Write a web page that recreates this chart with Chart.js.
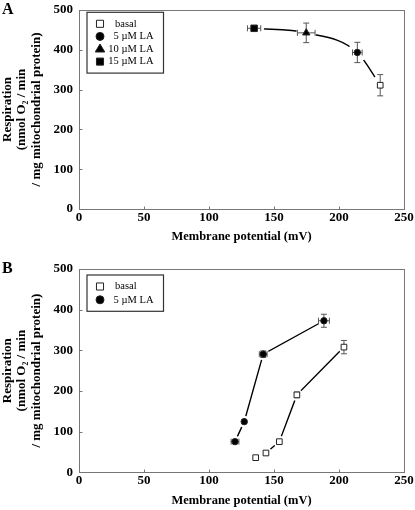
<!DOCTYPE html>
<html>
<head>
<meta charset="utf-8">
<script src="https://cdn.jsdelivr.net/npm/chart.js@4/dist/chart.umd.min.js"></script>
<style>
  body { margin: 0; background: #fff; width: 415px; height: 510px; overflow: hidden; position: relative; }
  .panel { position: absolute; left: 0; width: 415px; }
  #panelA { top: 0; height: 250px; }
  #panelB { top: 250px; height: 260px; }
  .tag { position: absolute; font: bold 16px "Liberation Serif", serif; color: #000; }
</style>
</head>
<body>
<div class="panel" id="panelA">
  <canvas id="chartA" width="415" height="250"></canvas>
  <div class="tag" style="left:2px; top:0px;">A</div>
</div>
<div class="panel" id="panelB">
  <canvas id="chartB" width="415" height="260"></canvas>
  <div class="tag" style="left:2px; top:9px;">B</div>
</div>
<script>
// shared axes
const xTicks = [0, 50, 100, 150, 200, 250];
const yTicks = [0, 100, 200, 300, 400, 500];

// panel A: one point per LA concentration
const labelsA = ['basal', '5 µM LA', '10 µM LA', '15 µM LA'];
const potentialA = [231.7, 214.1, 174.8, 134.7];
const potentialErrA = [0.8, 3.7, 6.8, 5.1];
const respirationA = [311, 393.3, 442.6, 454];
const respirationErrA = [26.7, 25.5, 24.6, 3];

// panel B: titration, basal vs 5 uM LA
const labelsB = ['basal', '5 µM LA'];
const basalPotentialB = [135.9, 143.8, 154.1, 167.6, 203.8];
const basalPotentialErrB = [0, 0, 0, 0, 0];
const basalRespirationB = [36, 47.5, 75.4, 190.4, 307.9];
const basalRespirationErrB = [0, 0, 0, 7, 16.4];
const laPotentialB = [120.0, 127.1, 141.7, 188.4];
const laPotentialErrB = [3, 0, 3, 4.2];
const laRespirationB = [75.4, 124.6, 290.6, 372.7];
const laRespirationErrB = [0, 0, 8, 16];

const FONT = '"Liberation Serif", "Times New Roman", serif';

const markerStyles = {
  'basal':    { pointStyle: 'rect', bg: '#fff', radius: 4 },
  '5 µM LA':  { pointStyle: 'circle', bg: '#000', radius: 3.2 },
  '10 µM LA': { pointStyle: 'triangle', bg: '#000', radius: 4.2 },
  '15 µM LA': { pointStyle: 'rect', bg: '#000', radius: 4.6 }
};

function toPoints(xs, ys) {
  return xs.map((x, i) => ({ x: x, y: ys[i] }));
}

function markerDataset(label, xs, ys, xErr, yErr) {
  const m = markerStyles[label];
  return {
    label: label,
    data: toPoints(xs, ys),
    xErr: xErr,
    yErr: yErr,
    inLegend: true,
    pointStyle: m.pointStyle,
    pointRadius: m.radius,
    pointBackgroundColor: m.bg,
    pointBorderColor: '#222',
    pointBorderWidth: 1,
    showLine: false,
    order: 1
  };
}

// the connecting line, plus a white halo so the line stops short of each marker
function lineDatasets(xs, ys, smooth, gap) {
  const idx = xs.map((_, i) => i).sort((a, b) => xs[a] - xs[b]);
  const pts = idx.map(i => ({ x: xs[i], y: ys[i] }));
  return [
    {
      data: pts,
      showLine: true,
      borderColor: '#000',
      borderWidth: 1.4,
      pointRadius: 0,
      cubicInterpolationMode: smooth ? 'monotone' : 'default',
      tension: 0,
      order: 3
    },
    {
      data: pts,
      showLine: false,
      pointRadius: gap,
      pointBackgroundColor: '#fff',
      pointBorderWidth: 0,
      order: 2
    }
  ];
}

const errorBars = {
  id: 'errorBars',
  beforeDatasetDraw(chart, args) {
    const ds = chart.data.datasets[args.index];
    if (!ds.xErr && !ds.yErr) return;
    const { ctx, scales: { x, y } } = chart;
    const cap = 3;
    ctx.save();
    ctx.strokeStyle = '#555';
    ctx.lineWidth = 1;
    ds.data.forEach((p, i) => {
      const px = x.getPixelForValue(p.x);
      const py = y.getPixelForValue(p.y);
      const ye = ds.yErr ? ds.yErr[i] : 0;
      const xe = ds.xErr ? ds.xErr[i] : 0;
      ctx.beginPath();
      if (ye) {
        const t = y.getPixelForValue(p.y + ye);
        const b = y.getPixelForValue(p.y - ye);
        ctx.moveTo(px, t); ctx.lineTo(px, b);
        ctx.moveTo(px - cap, t); ctx.lineTo(px + cap, t);
        ctx.moveTo(px - cap, b); ctx.lineTo(px + cap, b);
      }
      if (xe) {
        const l = x.getPixelForValue(p.x - xe);
        const r = x.getPixelForValue(p.x + xe);
        ctx.moveTo(l, py); ctx.lineTo(r, py);
        ctx.moveTo(l, py - cap); ctx.lineTo(l, py + cap);
        ctx.moveTo(r, py - cap); ctx.lineTo(r, py + cap);
      }
      ctx.stroke();
    });
    ctx.restore();
  }
};

// grey frame round the plot with small inward ticks
const frame = {
  id: 'frame',
  afterDraw(chart) {
    const { ctx, chartArea: a, scales: { x, y } } = chart;
    ctx.save();
    ctx.strokeStyle = '#777';
    ctx.lineWidth = 1;
    const l = Math.round(a.left) + 0.5, r = Math.round(a.right) + 0.5;
    const t = Math.round(a.top) + 0.5, b = Math.round(a.bottom) + 0.5;
    ctx.strokeRect(l, t, r - l, b - t);
    ctx.beginPath();
    x.ticks.forEach(tk => {
      const px = Math.round(x.getPixelForValue(tk.value)) + 0.5;
      ctx.moveTo(px, b); ctx.lineTo(px, b - 3);
    });
    y.ticks.forEach(tk => {
      const py = Math.round(y.getPixelForValue(tk.value)) + 0.5;
      ctx.moveTo(l, py); ctx.lineTo(l + 3, py);
    });
    ctx.stroke();
    ctx.restore();
  }
};

function drawMarker(ctx, style, x, y, r, fill) {
  ctx.beginPath();
  if (style === 'circle') {
    ctx.arc(x, y, r, 0, Math.PI * 2);
  } else if (style === 'rect') {
    const s = r * Math.SQRT1_2;
    ctx.rect(x - s, y - s, 2 * s, 2 * s);
  } else {
    ctx.moveTo(x, y - r);
    ctx.lineTo(x + r * 0.95, y + r * 0.6);
    ctx.lineTo(x - r * 0.95, y + r * 0.6);
    ctx.closePath();
  }
  ctx.fillStyle = fill;
  ctx.fill();
  ctx.stroke();
}

const legendBox = {
  id: 'legendBox',
  afterDraw(chart, args, o) {
    const { ctx } = chart;
    const items = chart.data.datasets.filter(d => d.inLegend);
    const h = o.firstRow * 2 + o.row * (items.length - 1);
    ctx.save();
    ctx.fillStyle = '#fff';
    ctx.fillRect(o.left, o.top, o.width, h);
    ctx.strokeStyle = '#333';
    ctx.lineWidth = 1.2;
    ctx.strokeRect(o.left, o.top, o.width, h);
    ctx.font = '10.5px ' + FONT;
    ctx.textBaseline = 'middle';
    items.forEach((d, i) => {
      const cy = o.top + o.firstRow + i * o.row;
      const m = markerStyles[d.label];
      ctx.strokeStyle = '#222';
      ctx.lineWidth = 1;
      const r = m.pointStyle === 'circle' ? 4 : 5;
      drawMarker(ctx, m.pointStyle, o.left + 13, cy, r, m.bg);
      ctx.fillStyle = '#000';
      if (d.label.indexOf('µM') >= 0) {
        ctx.textAlign = 'right';
        ctx.fillText(d.label, o.left + o.width - 10, cy);
      } else {
        ctx.textAlign = 'left';
        ctx.fillText(d.label, o.left + 28, cy);
      }
    });
    ctx.restore();
  }
};

function axisFont(size) {
  return { family: FONT, weight: 'bold', size: size, lineHeight: 1.12 };
}

function buildOptions(cfg) {
  return {
    responsive: false,
    maintainAspectRatio: false,
    animation: false,
    layout: { padding: { top: cfg.top, right: 11, left: 0, bottom: 0 } },
    plugins: {
      legend: { display: false },
      tooltip: { enabled: false },
      legendBox: cfg.legend
    },
    scales: {
      x: {
        type: 'linear', min: 0, max: 250,
        grid: { display: false, drawTicks: false },
        border: { display: false },
        afterBuildTicks: s => { s.ticks = xTicks.map(v => ({ value: v })); },
        afterFit: s => { s.height = cfg.xHeight; s.paddingLeft = 0; s.paddingRight = 0; },
        ticks: { font: axisFont(13), color: '#000', padding: 1, maxRotation: 0, autoSkip: false },
        title: {
          display: true, text: 'Membrane potential (mV)', color: '#000',
          font: axisFont(12.5), padding: { top: 0, bottom: cfg.titlePad }
        }
      },
      y: {
        type: 'linear', min: 0, max: 500,
        grid: { display: false, drawTicks: false },
        border: { display: false },
        afterBuildTicks: s => { s.ticks = yTicks.map(v => ({ value: v })); },
        afterFit: s => { s.width = 79; s.paddingTop = 0; s.paddingBottom = 0; },
        ticks: { font: axisFont(13), color: '#000', padding: 6 },
        title: {
          display: true, color: '#000',
          text: ['Respiration', '(nmol O₂ / min', '/ mg mitochondrial protein)'],
          font: { family: FONT, weight: 'bold', size: 13, lineHeight: 1.12 },
          padding: { top: 0, bottom: 0 }
        }
      }
    }
  };
}

const dsA = labelsA.map((lab, i) =>
  markerDataset(lab, [potentialA[i]], [respirationA[i]], [potentialErrA[i]], [respirationErrA[i]]));

new Chart(document.getElementById('chartA'), {
  type: 'scatter',
  data: { datasets: lineDatasets(potentialA, respirationA, true, 10).concat(dsA) },
  options: buildOptions({
    top: 5, xHeight: 41, titlePad: 6,
    legend: { left: 87, top: 12.3, width: 76.5, firstRow: 11.5, row: 12.6 }
  }),
  plugins: [errorBars, frame, legendBox]
});

new Chart(document.getElementById('chartB'), {
  type: 'scatter',
  data: {
    datasets: lineDatasets(basalPotentialB, basalRespirationB, false, 6)
      .concat(lineDatasets(laPotentialB, laRespirationB, false, 6))
      .concat([
        markerDataset(labelsB[0], basalPotentialB, basalRespirationB, basalPotentialErrB, basalRespirationErrB),
        markerDataset(labelsB[1], laPotentialB, laRespirationB, laPotentialErrB, laRespirationErrB)
      ])
  },
  options: buildOptions({
    top: 19, xHeight: 37.7, titlePad: 2.3,
    legend: { left: 87, top: 25, width: 76.5, firstRow: 11.5, row: 13.3 }
  }),
  plugins: [errorBars, frame, legendBox]
});
</script>
</body>
</html>
